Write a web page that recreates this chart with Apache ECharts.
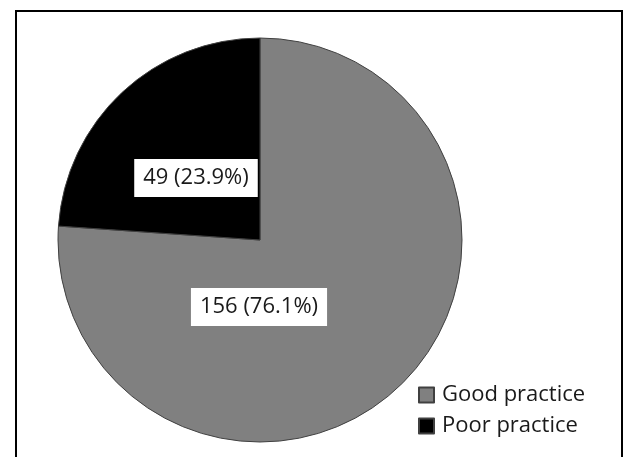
<!DOCTYPE html>
<html>
<head>
<meta charset="utf-8">
<script src="https://cdn.jsdelivr.net/npm/echarts@6/dist/echarts.min.js"></script>
<style>
  html, body { margin: 0; padding: 0; background: #fff; }
  .frame {
    position: absolute;
    left: 15px; top: 10px;
    width: 604px; height: 470px;
    border: 2px solid #000;
  }
  #chart { position: absolute; left: 0; top: 0; width: 624px; height: 457px; }
</style>
</head>
<body>
<div class="frame"></div>
<div id="chart"></div>
<script>
// data
const categories = ['Good practice', 'Poor practice'];
const counts = [156, 49];
const colors = ['#808080', '#000000'];

// where Excel put the two data labels (centre of box)
const labelCentres = [[259, 307], [196, 178]];

const chart = echarts.init(document.getElementById('chart'));

const option = {
  animation: false,
  legend: {
    orient: 'vertical',
    left: 413,
    top: 379,
    itemWidth: 15,
    itemHeight: 15,
    itemGap: 9,
    icon: 'rect',
    textStyle: {
      fontFamily: 'Open Sans',
      fontSize: 22,
      color: '#1a1a1a',
      padding: [0, 0, 0, 3]
    },
    data: categories
  },
  series: [{
    type: 'pie',
    center: [260, 240],
    radius: 202,
    startAngle: 90,
    clockwise: true,
    percentPrecision: 1,
    itemStyle: { borderColor: '#404040', borderWidth: 1 },
    label: {
      position: 'inside',
      formatter: '{c} ({d}%)',
      fontFamily: 'Open Sans',
      fontSize: 22,
      color: '#1a1a1a',
      backgroundColor: '#fff',
      padding: [8, 9, 8, 9]
    },
    labelLine: { show: false },
    labelLayout: function (p) {
      const c = labelCentres[p.dataIndex];
      return { x: c[0], y: c[1], align: 'center', verticalAlign: 'middle' };
    },
    emphasis: { disabled: true },
    data: categories.map((name, i) => ({
      name: name,
      value: counts[i],
      itemStyle: { color: colors[i] }
    }))
  }]
};

chart.setOption(option);
</script>
</body>
</html>
